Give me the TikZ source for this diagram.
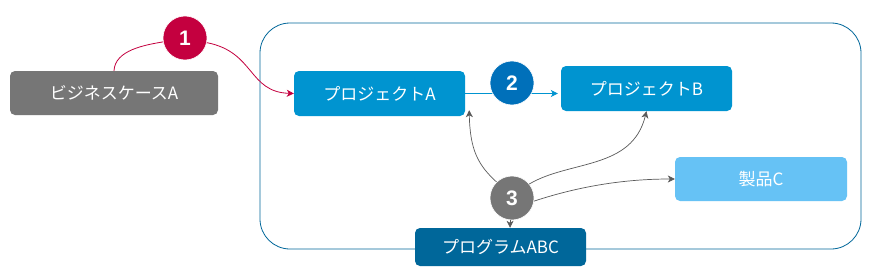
\documentclass[tikz,border=0pt]{standalone}
\usepackage{fontspec}
\setmainfont{Liberation Sans}
\newfontfamily\jpfont{Noto Sans CJK JP}
\usetikzlibrary{arrows.meta}
\definecolor{cgray}{HTML}{767676}
\definecolor{cred}{HTML}{C4003F}
\definecolor{cblue}{HTML}{0094D0}
\definecolor{cblueB}{HTML}{0070BA}
\definecolor{clight}{HTML}{66C2F5}
\definecolor{cdark}{HTML}{00679A}
\definecolor{carrow}{HTML}{5A5A5A}
\tikzset{
  box/.style={rounded corners=5pt, text=white, inner sep=0pt, font=\jpfont\fontsize{17}{20}\selectfont},
  numc/.style={circle, minimum size=44pt, inner sep=0pt, text=white, draw=white, line width=0.6pt, font=\fontsize{21}{24}\selectfont\bfseries},
  tip/.style={-{Stealth[length=7pt,width=7pt,inset=2pt]}},
  garrow/.style={draw=carrow, line width=0.7pt, tip},
}
\begin{document}
\begin{tikzpicture}[x=1pt,y=-1pt]
\useasboundingbox (0,0) rectangle (872,278);
\fill[white] (0,0) rectangle (872,278);
% container
\node[draw=cdark, line width=0.8pt, rounded corners=30pt, minimum width=601pt, minimum height=226pt, inner sep=0pt] (cont) at (560.5,136) {};
% boxes
\node[box, fill=cgray, minimum width=208pt, minimum height=44pt] (biz) at (114,93) {ビジネスケースA};
\node[box, fill=cblue, minimum width=171pt, minimum height=45pt] (proA) at (379.5,93.5) {プロジェクトA};
\node[box, fill=cblue, minimum width=171pt, minimum height=45pt] (proB) at (646.5,88.5) {プロジェクトB};
\node[box, fill=clight, minimum width=172pt, minimum height=44pt] (prodC) at (761,179) {製品C};
\node[box, fill=cdark, minimum width=171pt, minimum height=38pt] (prog) at (500.5,247) {プログラムABC};
% circles
\node[numc, fill=cred] (c1) at (185,38) {1};
\node[numc, fill=cgray] (c3) at (512,198) {3};
% red connector
\draw[cred, line width=0.8pt] (biz.north) .. controls (115,50) and (145,45) .. (c1.190);
\draw[cred, line width=0.8pt, tip] (c1.-12) .. controls (255,52) and (248,92) .. (proA.west);
% blue connector
\draw[cblue, line width=0.8pt, tip, shorten >=3pt] (proA.east) -- (proA.east -| proB.west);
\node[numc, fill=cblueB] (c2) at (512,83) {2};
% gray connectors
\draw[garrow] (c3.134) .. controls (478,165) and (470,150) .. ([xshift=4pt,yshift=6pt]proA.south east);
\draw[garrow] (c3.39) .. controls (570,160) and (632,170) .. (proB.south);
\draw[garrow] (c3.-8) .. controls (580,186) and (625,179) .. (prodC.west);
\draw[garrow] (c3.-95) -- (prog.north -| c3.-95);
\end{tikzpicture}
\end{document}
